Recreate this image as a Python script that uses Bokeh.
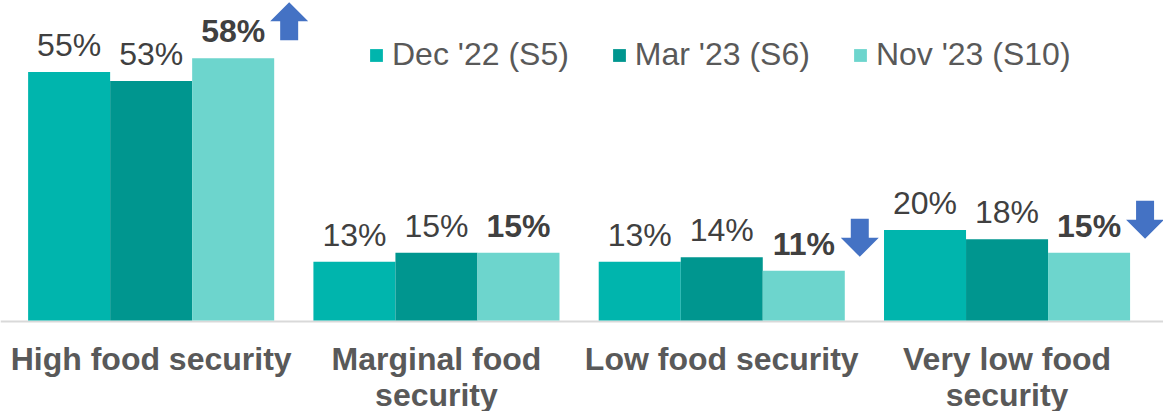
from bokeh.plotting import figure
from bokeh.models import Range1d, Span, ColumnDataSource, Legend, LegendItem
from bokeh.core.properties import value
from bokeh.embed import file_html
from bokeh.resources import INLINE

# ---- data ----
categories = ["High food security", "Marginal food\nsecurity",
              "Low food security", "Very low food\nsecurity"]
series = ["Dec '22 (S5)", "Mar '23 (S6)", "Nov '23 (S10)"]
dec22 = [55, 13, 13, 20]
mar23 = [53, 15, 14, 18]
nov23 = [58, 15, 11, 15]
nov_change = ["up", "", "down", "down"]   # significant change marker for Nov '23

# ---- style ----
colors = ["#00B5AD", "#00968F", "#6DD5CD"]
ARROW = "#4472C4"
FONT = "Liberation Sans"
W, H = 1163, 411
PX_X = 285.3     # px per category unit
PX_Y = 4.52      # px per percentage point
LEFT = 8         # px from left edge to first category slot
BASE = 320       # px from top edge to zero line
Y_TOP = BASE / PX_Y
Y_BOT = Y_TOP - H / PX_Y

p = figure(width=W, height=H,
           x_range=Range1d(-LEFT / PX_X, (W - LEFT) / PX_X),
           y_range=Range1d(Y_BOT, Y_TOP),
           output_backend="svg", toolbar_location=None,
           min_border_left=0, min_border_right=0,
           min_border_top=0, min_border_bottom=0,
           x_axis_location=None, y_axis_location=None)
p.grid.visible = False
p.outline_line_color = None
p.background_fill_color = "white"
p.border_fill_color = "white"

p.add_layout(Span(location=-1 / PX_Y, dimension="width",
                  line_color="#D9D9D9", line_width=2, level="underlay"))

bw = 0.2875
offsets = [-bw, 0, bw]
renderers = []
for k, (vals, col) in enumerate(zip([dec22, mar23, nov23], colors)):
    xs = [i + 0.5 + offsets[k] for i in range(len(categories))]
    src = ColumnDataSource(dict(x=xs, top=vals, label=[f"{v}%" for v in vals]))
    r = p.vbar(x="x", top="top", bottom=0, width=bw, source=src,
               fill_color=col, line_color=None)
    renderers.append(r)
    p.text(x="x", y="top", text="label", source=src,
           text_align="center", text_baseline="alphabetic", y_offset=-27,
           text_font=value(FONT), text_font_size="32px",
           text_font_style="bold" if k == 2 else "normal",
           text_color="#404040")

# category labels
l1 = [c.split("\n")[0] for c in categories]
l2 = [c.split("\n")[1] if "\n" in c else "" for c in categories]
csrc = ColumnDataSource(dict(x=[i + 0.5 for i in range(len(categories))],
                             y=[0] * len(categories), l1=l1, l2=l2))
for col, off in (("l1", 38), ("l2", 74)):
    p.text(x="x", y="y", text=col, source=csrc, y_offset=off,
           text_align="center", text_baseline="alphabetic",
           text_font=value(FONT), text_font_size="32px",
           text_font_style="bold", text_color="#595959")

# change arrows
ax, ay = [], []
hw, sw = 19 / PX_X, 9 / PX_X
half, head = 19 / PX_Y, 19 / PX_Y
for i, ch in enumerate(nov_change):
    if not ch:
        continue
    cx = i + 0.5 + offsets[2] + 56 / PX_X
    cy = nov23[i] + (37 if ch == "up" else 33) / PX_Y
    xs = [cx, cx + hw, cx + sw, cx + sw, cx - sw, cx - sw, cx - hw]
    if ch == "up":
        tip, end = cy + half, cy - half
        neck = tip - head
    else:
        tip, end = cy - half, cy + half
        neck = tip + head
    ys = [tip, neck, neck, end, end, neck, neck]
    ax.append(xs)
    ay.append(ys)
p.patches(ax, ay, fill_color=ARROW, line_color=None)

legend = Legend(items=[LegendItem(label=s, renderers=[r]) for s, r in zip(series, renderers)],
                orientation="horizontal", location=(368, 338),
                glyph_width=16, glyph_height=16, label_standoff=8, spacing=42,
                padding=0, margin=0, border_line_color=None,
                background_fill_alpha=0,
                label_text_font=FONT, label_text_font_size="32px",
                label_text_color="#595959")
p.add_layout(legend)

open("out.html", "w").write(file_html(p, INLINE))
